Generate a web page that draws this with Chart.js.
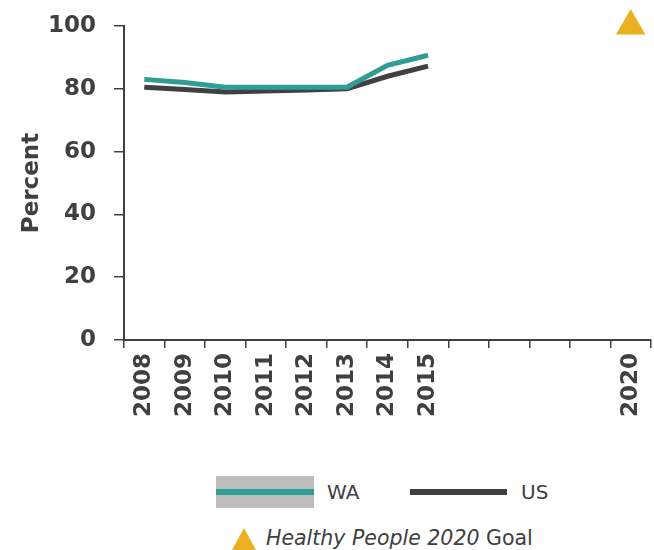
<!DOCTYPE html>
<html>
<head>
<meta charset="utf-8">
<script src="https://cdn.jsdelivr.net/npm/chart.js@4"></script>
<style>
  body { margin: 0; background: #fff; }
  #wrap { position: relative; width: 654px; height: 550px; font-family: "DejaVu Sans"; color: #404040; }
  #myChart { position: absolute; left: 0; top: 0; }
  .lg { position: absolute; font-size: 20px; line-height: 1; }
</style>
</head>
<body>
<div id="wrap">
  <canvas id="myChart" width="654" height="430"></canvas>

  <!-- legend -->
  <div style="position:absolute;left:216px;top:476px;width:98px;height:32px;background:#bdbdbc;"></div>
  <div style="position:absolute;left:216px;top:489px;width:98px;height:6px;background:#2e9e94;"></div>
  <div class="lg" style="left:327px;top:482px;">WA</div>
  <div style="position:absolute;left:410px;top:489px;width:97px;height:6px;background:#404040;"></div>
  <div class="lg" style="left:521px;top:482px;">US</div>
  <svg style="position:absolute;left:232px;top:528px;" width="24" height="22"><polygon points="12,0 24,22 0,22" fill="#ebb022"/></svg>
  <div class="lg" style="left:266px;top:528px;font-size:20.5px;"><i>Healthy People 2020</i> Goal</div>
</div>

<script>
// categories and tick labels
let years = ['2008', '2009', '2010', '2011', '2012', '2013', '2014', '2015', '2016', '2017', '2018', '2019', '2020'];
let tickLabels = ['2008', '2009', '2010', '2011', '2012', '2013', '2014', '2015', '', '', '', '', '2020'];

// percent values
let waValues = [83, 82, 80.5, 80.5, 80.5, 80.5, 87.5, 90.7, null, null, null, null, null];
let usValues = [80.5, 79.8, 79, 79.3, 79.6, 80, 84, 87.2, null, null, null, null, null];
let goalValues = [null, null, null, null, null, null, null, null, null, null, null, null, 100];

let yTicks = [0, 20, 40, 60, 80, 100];

let ctx = document.getElementById('myChart').getContext('2d');

let chart = new Chart(ctx, {
    type: 'line',
    data: {
        labels: years,
        datasets: [
            {
                label: 'Healthy People 2020 Goal',
                data: goalValues,
                showLine: false,
                pointStyle: 'triangle',
                pointRadius: 17,
                pointBackgroundColor: '#ebb022',
                pointBorderWidth: 0,
                clip: false
            },
            {
                label: 'WA',
                data: waValues,
                borderColor: '#2e9e94',
                borderWidth: 5,
                pointRadius: 0,
                tension: 0
            },
            {
                label: 'US',
                data: usValues,
                borderColor: '#404040',
                borderWidth: 5,
                pointRadius: 0,
                tension: 0
            }
        ]
    },
    options: {
        responsive: false,
        animation: false,
        layout: { autoPadding: false, padding: { top: 26, right: 3, left: 0, bottom: 0 } },
        plugins: {
            legend: { display: false },
            tooltip: { enabled: false }
        },
        scales: {
            x: {
                offset: true,
                grid: { offset: true, drawOnChartArea: false, tickLength: 8, color: '#404040', lineWidth: 1.5 },
                border: { color: '#404040', width: 2 },
                ticks: {
                    autoSkip: false,
                    maxRotation: 90,
                    minRotation: 90,
                    padding: 5,
                    color: '#404040',
                    font: { family: 'DejaVu Sans', size: 23, weight: 'bold' },
                    callback: function (value, index) { return tickLabels[index]; }
                },
                afterFit: function (scale) {
                    scale.height = 90;
                    scale.paddingLeft = 0;
                    scale.paddingRight = 0;
                }
            },
            y: {
                min: 0,
                max: 100,
                afterBuildTicks: function (scale) { scale.ticks = yTicks.map(v => ({ value: v })); },
                grid: { drawOnChartArea: false, tickLength: 10, color: '#404040', lineWidth: 1.5 },
                border: { color: '#404040', width: 2 },
                ticks: {
                    padding: 18,
                    color: '#404040',
                    font: { family: 'DejaVu Sans', size: 23, weight: 'bold' }
                },
                title: {
                    display: true,
                    text: 'Percent',
                    color: '#404040',
                    font: { family: 'DejaVu Sans', size: 23, weight: 'bold' },
                    padding: { top: 18, bottom: 0 }
                },
                afterFit: function (scale) {
                    scale.width = 124;
                    scale.paddingTop = 0;
                    scale.paddingBottom = 0;
                }
            }
        }
    }
});
</script>
</body>
</html>
